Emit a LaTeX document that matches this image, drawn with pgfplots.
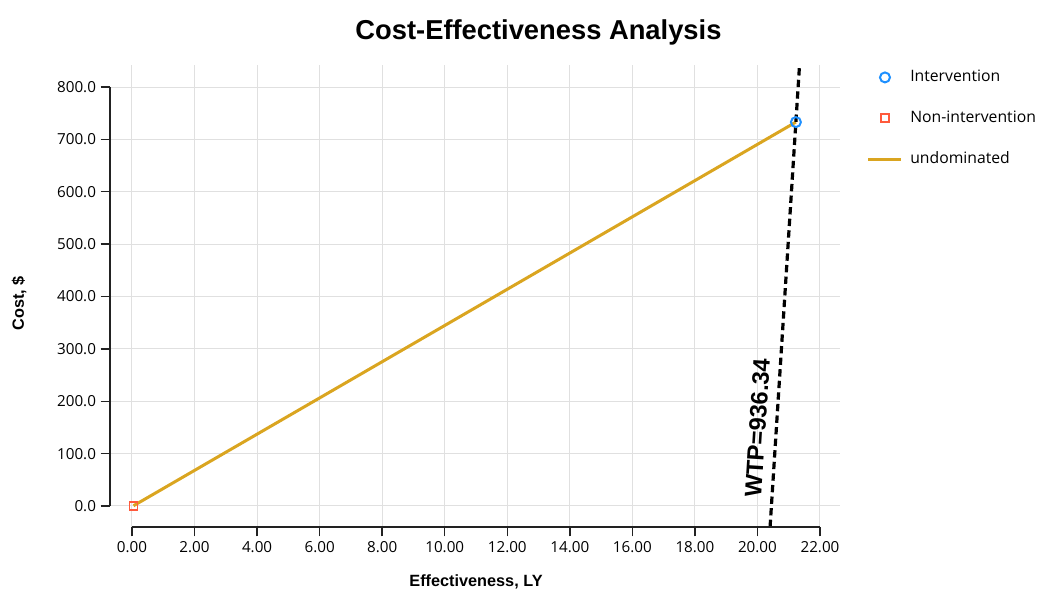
\documentclass[border=0pt]{standalone}
\usepackage{fontspec}
\setmainfont{Open Sans}
\newfontfamily\arialfont{Liberation Sans}
\usepackage{pgfplots}
\pgfplotsset{compat=1.18}
\definecolor{gridc}{HTML}{E0E0E0}
\definecolor{intblue}{HTML}{1E90FF}
\definecolor{nonred}{HTML}{FF5A3C}
\definecolor{goldc}{HTML}{DAA520}
\definecolor{axc}{HTML}{222222}
\pgfplotsset{
  markleg/.style={legend image code/.code={\path (0pt,-3pt) (24.75pt,3pt); \draw[mark repeat=2,mark phase=2,##1] plot coordinates {(0pt,0pt) (12.375pt,0pt) (24.75pt,0pt)};}},
  lineleg/.style={legend image code/.code={\path (0pt,-3pt) (24.75pt,3pt); \draw[##1] (0pt,0pt) -- (24.75pt,0pt);}},
}
\begin{document}
\begin{tikzpicture}
\useasboundingbox (0pt,0pt) rectangle (780pt,442.5pt);
% main plotting area
\begin{axis}[
  at={(83.25pt,47.25pt)}, anchor=south west,
  scale only axis, width=546.75pt, height=346.5pt,
  xmin=-0.67, xmax=22.64, ymin=-40.1, ymax=842,
  axis line style={draw=none},
  xtick={0,2,...,22}, ytick={0,100,...,800},
  xticklabels={}, yticklabels={},
  major tick length=0pt,
  grid=major, major grid style={gridc, line width=0.75pt},
  title={Cost-Effectiveness Analysis},
  title style={at={(axis description cs:0.5864,1.054)}, anchor=center, font=\arialfont\bfseries\fontsize{20.5}{24}\selectfont},
  xlabel={Effectiveness, LY},
  xlabel style={at={(axis description cs:0.5007,-0.118)}, anchor=center, font=\arialfont\bfseries\fontsize{12.2}{14}\selectfont},
  ylabel={Cost, \$},
  ylabel style={at={(axis description cs:-0.1262,0.4838)}, anchor=center, font=\arialfont\bfseries\fontsize{12.2}{14}\selectfont},
  legend style={draw=none, fill=none, at={(axis description cs:1.037,0.989)}, anchor=north west,
    inner sep=0pt, outer sep=0pt, row sep=19.6pt, column sep=5.5pt,
    nodes={inner sep=0pt, text height=8.5pt, text depth=2.5pt},
    font=\fontsize{11.8}{13}\selectfont},
  legend cell align=left,
]
\addplot[goldc, line width=2.25pt, forget plot] coordinates {(0.05,0.5) (21.23,733)};
\addplot[black, line width=2.4pt, dash pattern=on 5.5pt off 3.2pt, forget plot] coordinates {(20.404,-40.1) (21.346,842)};
\addplot[only marks, mark=o, mark size=3.75pt, intblue, line width=1.5pt, markleg]
  coordinates {(21.23,733)};
\addplot[only marks, mark=square, mark size=3pt, nonred, line width=1.4pt, mark options={fill=white}, markleg]
  coordinates {(0.05,0.5)};
\addlegendimage{goldc, line width=2.25pt, lineleg}
\legend{Intervention, Non-intervention, undominated}
\node[rotate=86.35, anchor=center, font=\arialfont\bfseries\fontsize{17.8}{20}\selectfont] at (axis cs:20.0,149) {WTP=936.34};
\end{axis}
% offset y axis
\begin{axis}[
  at={(82.5pt,63pt)}, anchor=south west,
  scale only axis, width=10pt, height=314.25pt,
  xmin=0, xmax=1, ymin=0, ymax=800,
  axis x line=none, axis y line*=left,
  ytick={0,100,...,800},
  tick align=outside, major tick length=7pt,
  axis line style={axc, line width=1.1pt},
  every tick/.style={axc, line width=1.1pt},
  yticklabel style={font=\fontsize{11.4}{13}\selectfont, /pgf/number format/.cd, fixed, fixed zerofill, precision=1, 1000 sep={}, assume math mode=true},
]
\addplot[draw=none] coordinates {(0,0)};
\end{axis}
% offset x axis
\begin{axis}[
  at={(99pt,47.25pt)}, anchor=south west,
  scale only axis, width=516pt, height=1pt,
  xmin=0, xmax=22, ymin=0, ymax=1,
  axis y line=none, axis x line*=bottom,
  xtick={0,2,...,22},
  tick align=outside, major tick length=7pt,
  axis line style={axc, line width=1.1pt},
  every tick/.style={axc, line width=1.1pt},
  xticklabel style={font=\fontsize{11.4}{13}\selectfont, /pgf/number format/.cd, fixed, fixed zerofill, precision=2, 1000 sep={}, assume math mode=true},
]
\addplot[draw=none] coordinates {(0,0)};
\end{axis}
\end{tikzpicture}
\end{document}
